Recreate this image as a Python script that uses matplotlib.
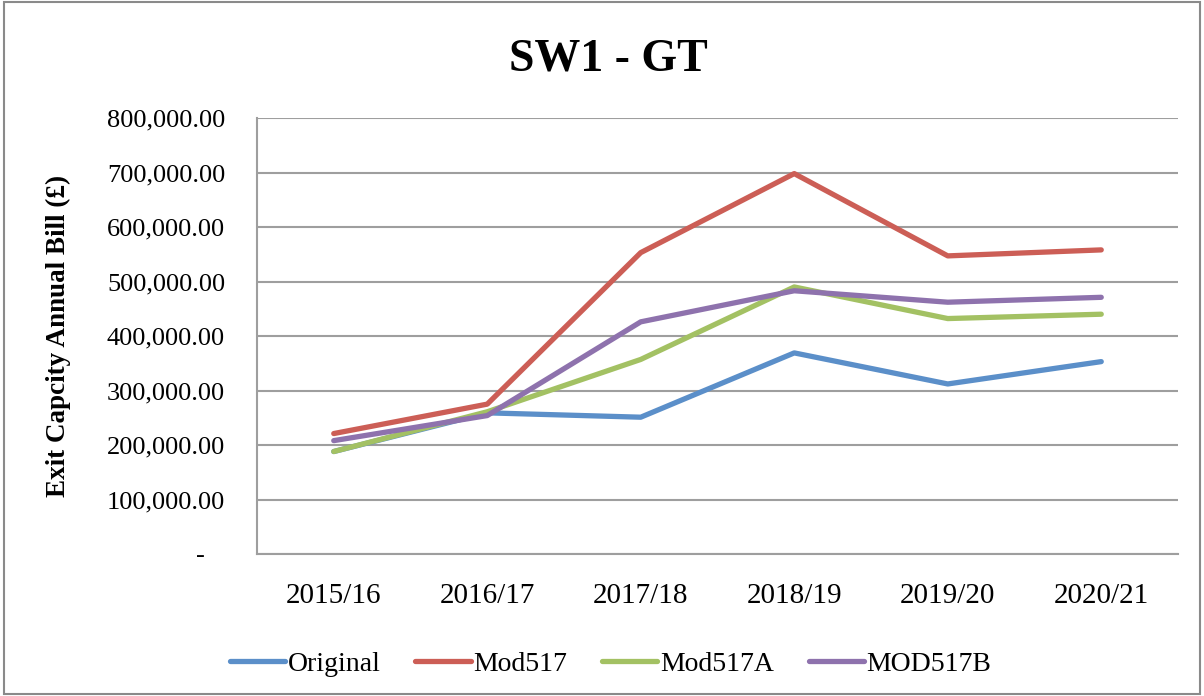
import matplotlib.pyplot as plt
from matplotlib.ticker import FuncFormatter
from matplotlib.patches import Rectangle

years = ["2015/16", "2016/17", "2017/18", "2018/19", "2019/20", "2020/21"]
original = [188000, 259000, 251000, 369000, 312000, 353000]
mod517 = [221000, 275000, 553000, 698000, 547000, 558000]
mod517a = [188000, 261000, 357000, 490000, 432000, 440000]
mod517b = [208000, 254000, 426000, 483000, 462000, 471000]

plt.rcParams['font.family'] = ['Liberation Serif', 'DejaVu Serif']

fig = plt.figure(figsize=(12.04, 6.96), dpi=100)
ax = fig.add_axes([257 / 1204, 1 - 554 / 696, 921 / 1204, 436 / 696])

x = range(len(years))
lw = 3.8
ax.plot(x, original, color='#5B8FC9', lw=lw, label='Original', solid_capstyle='round')
ax.plot(x, mod517, color='#CC5E56', lw=lw, label='Mod517', solid_capstyle='round')
ax.plot(x, mod517a, color='#A3C163', lw=lw, label='Mod517A', solid_capstyle='round')
ax.plot(x, mod517b, color='#8E72AD', lw=lw, label='MOD517B', solid_capstyle='round')

ax.set_xlim(-0.5, 5.5)
ax.set_ylim(0, 800000)
ax.set_yticks(range(0, 800001, 100000))
ax.yaxis.set_major_formatter(FuncFormatter(lambda v, p: '-   ' if v == 0 else f'{v:,.2f}'))
ax.set_xticks(list(x))
ax.set_xticklabels(years)
ax.grid(axis='y', color='#9E9E9E', lw=1.5)
ax.set_axisbelow(True)
for s in ['top', 'right']:
    ax.spines[s].set_visible(False)
for s in ['left', 'bottom']:
    ax.spines[s].set_color('#9E9E9E')
    ax.spines[s].set_linewidth(1.5)
ax.tick_params(axis='y', labelsize=19, length=0, pad=23)
ax.tick_params(axis='x', labelsize=21, length=0, pad=21)

fig.text(58 / 1204, 1 - 335.5 / 696, 'Exit Capcity Annual Bill (£)', rotation=90,
         ha='center', va='center', fontsize=19.5, fontweight='bold')
fig.text(0.505, 0.914, 'SW1 - GT', ha='center', va='center', fontsize=33, fontweight='bold')

fig.legend(loc='center', bbox_to_anchor=(0.507, 0.046), ncol=4, frameon=False,
           fontsize=20, handlelength=2.0, handletextpad=0.08, columnspacing=1.26)

fig.patches.append(Rectangle((0.003, 0.003), 0.994, 0.994, transform=fig.transFigure,
                             fill=False, edgecolor='#8A8A8A', lw=1.5))

fig.savefig('out.png', dpi=100)
